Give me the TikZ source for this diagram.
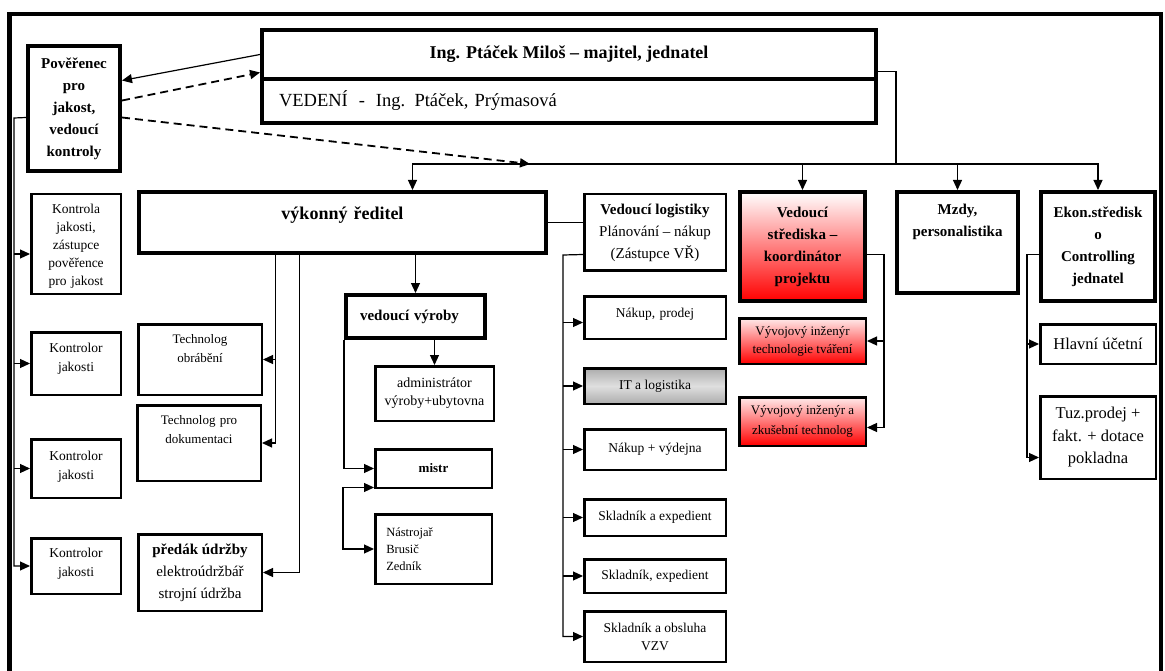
\documentclass[tikz,border=0pt]{standalone}
\usepackage{fontspec}
\setmainfont{Liberation Serif}
\usetikzlibrary{positioning, arrows.meta}

\begin{document}
\begin{tikzpicture} [x = 1pt, y = -1pt, >={Triangle[length=10pt, width=9pt]},
		box/.style = {draw, line width = 2.5pt, anchor = north west, align = center, font = \fontsize{13.5}{18}\selectfont},
		bbox/.style = {box, line width = 4pt, font = \fontsize{15}{22}\selectfont\bfseries},
		topbox/.style = {inner sep = 0pt},
		redbox/.style = {top color = white, bottom color = red},
		link/.style = {line width = 1.2pt},
		arr/.style = {link, ->},
		dline/.style = {line width = 1.8pt, dash pattern = on 8pt off 5pt}]
		\useasboundingbox (0,0) rectangle (1165,671);
		% Frame
		\draw [line width = 4.5pt] (9.5,671) -- (9.5,14) -- (1161,14) -- (1161,671);

		% Owner and management
		\node (majitel) [bbox, font = \fontsize{18}{22}\selectfont\bfseries, minimum width = 614pt, minimum height = 49pt] at (260,28) {Ing. Ptáček Miloš – majitel, jednatel};
		\node (vedeni) [bbox, font = \fontsize{18.5}{22}\selectfont, below = -4pt of majitel, align = left, text width = 580pt, inner xsep = 17pt, minimum height = 44pt] {VEDENÍ\hspace{11pt}-\hspace{11pt}Ing. Ptáček, Prýmasová};

		% Quality
		\node (pov) [bbox, minimum width = 92pt, minimum height = 125pt] at (26,44) {Pověřenec\\pro\\jakost,\\vedoucí\\kontroly};
		\node (kon1) [box, topbox, text width = 89.5pt, text height = 19pt, text depth = 80.5pt] at (30,193) {Kontrola\\jakosti,\\zástupce\\pověřence\\pro jakost};
		\node (kon2) [box, topbox, font = \fontsize{13.5}{19}\selectfont, text width = 89.5pt, text height = 20pt, text depth = 42.5pt] at (30,331) {Kontrolor\\jakosti};
		\node (kon3) [box, topbox, font = \fontsize{13.5}{19}\selectfont, text width = 89.5pt, text height = 21pt, text depth = 37.5pt] at (30,438) {Kontrolor\\jakosti};
		\node (kon4) [box, topbox, font = \fontsize{13.5}{19}\selectfont, text width = 89.5pt, text height = 19pt, text depth = 36.5pt] at (30,537) {Kontrolor\\jakosti};

		% Executive director
		\node (vr) [bbox, topbox, font = \fontsize{18}{22}\selectfont\bfseries, text width = 407pt, text height = 28pt, text depth = 33pt] at (137,190) {výkonný ředitel};
		\node (tob) [box, topbox, font = \fontsize{13}{19}\selectfont, text width = 123.5pt, text height = 19pt, text depth = 51.5pt] at (137,323) {Technolog\\obrábění};
		\node (tdok) [box, topbox, font = \fontsize{13}{19}\selectfont, text width = 123.5pt, text height = 19pt, text depth = 56.5pt] at (136,404) {Technolog pro\\dokumentaci};
		\node (pred) [box, font = \fontsize{15}{22}\selectfont, minimum width = 123.5pt, minimum height = 76.5pt] at (137,533) {\textbf{předák údržby}\\elektroúdržbář\\strojní údržba};

		% Production
		\node (vvyr) [bbox, align = left, text width = 111pt, inner xsep = 14pt, minimum height = 43pt] at (344,293) {vedoucí výroby};
		\node (adm) [box, font = \fontsize{14}{18}\selectfont, minimum width = 118.5pt, minimum height = 54.5pt] at (374,365) {administrátor\\výroby+ubytovna};
		\node (mistr) [box, font = \fontsize{13}{14}\selectfont\bfseries, minimum width = 116.5pt, minimum height = 38.5pt] at (374,448) {mistr};
		\node (nas) [box, font = \fontsize{12.5}{17}\selectfont, align = left, text width = 94.5pt, inner xsep = 11pt, minimum height = 69.5pt] at (374,513) {Nástrojař\\Brusič\\Zedník};

		% Logistics
		\node (vlog) [box, font = \fontsize{15}{22}\selectfont, minimum width = 141.5pt, minimum height = 76.5pt] at (583,193) {\textbf{Vedoucí logistiky}\\Plánování – nákup\\(Zástupce VŘ)};
		\node (nak) [box, topbox, text width = 141.5pt, text height = 21pt, text depth = 21.5pt] at (583,295) {Nákup, prodej};
		\node (itl) [box, top color = gray!65, bottom color = gray!65, middle color = gray!25, minimum width = 141.5pt, minimum height = 35.5pt] at (583,367) {IT a logistika};
		\node (nvyd) [box, minimum width = 141.5pt, minimum height = 40.5pt] at (583,428) {Nákup + výdejna};
		\node (skl1) [box, minimum width = 141.5pt, minimum height = 36.5pt] at (583,498) {Skladník a expedient};
		\node (skl2) [box, minimum width = 141.5pt, minimum height = 33.5pt] at (583,558) {Skladník, expedient};
		\node (skl3) [box, minimum width = 141.5pt, minimum height = 50.5pt] at (583,610) {Skladník a obsluha\\VZV};

		% Centre / project
		\node (vst) [bbox, redbox, minimum width = 125pt, minimum height = 109pt] at (738,190) {Vedoucí\\střediska –\\koordinátor\\projektu};
		\node (vyv1) [box, top color = red!8, bottom color = red, font = \fontsize{13}{18}\selectfont, minimum width = 126.5pt, minimum height = 45.5pt] at (738,317) {Vývojový inženýr\\technologie tváření};
		\node (vyv2) [box, top color = red!8, bottom color = red, font = \fontsize{13}{20}\selectfont, minimum width = 126.5pt, minimum height = 48.5pt] at (738,396) {Vývojový inženýr a\\zkušební technolog};

		% Wages, economy
		\node (mzdy) [bbox, topbox, text width = 121pt, text height = 23pt, text depth = 78pt] at (895,190) {Mzdy,\\personalistika};
		\node (ekon) [bbox, minimum width = 114pt, minimum height = 109pt] at (1039,190) {Ekon.středisk\\o\\Controlling\\jednatel};
		\node (hlav) [box, font = \fontsize{16.5}{22}\selectfont, minimum width = 115.5pt, minimum height = 39.5pt] at (1039,323) {Hlavní účetní};
		\node (tuz) [box, font = \fontsize{16.5}{22.5}\selectfont, minimum width = 115.5pt, minimum height = 82.5pt] at (1039,395) {Tuz.prodej +\\fakt. + dotace\\pokladna};

		% Draw Arrows/Connections
		\coordinate (bus) at (896,164);
		\coordinate (dhit) at (530,164);
		\coordinate (kbus) at (14,118);
		\coordinate (lbus) at (563,255);

		% majitel <=> poverenec
		\draw [arr] (majitel.west) -- ([yshift=28pt]pov.east);
		\draw [arr, dline] ([yshift=8pt]pov.east) -- ([yshift=-18pt]majitel.west);
		\draw [arr, dline] ([yshift=-9pt]pov.east) -- (dhit);

		% majitel => top level
		\draw [link] ([yshift=-17pt]majitel.east) -| (bus);
		\draw [arr] (bus) -| ([xshift=70pt]vr.north);
		\draw [arr] (bus) -| (ekon.north);
		\draw [arr] (bus -| vst.north) -- (vst.north);
		\draw [arr] (bus -| mzdy.north) -- (mzdy.north);

		% poverenec => kontrolori
		\draw [arr] ([yshift=-9pt]pov.west) -- (kbus) |- (kon4.west);
		\draw [link, <-] ([yshift=-10pt]kon1.west) -- ++(-16,0);
		\draw [link, <-] (kon2.west) -- ++(-16,0);
		\draw [link, <-] (kon3.west) -- ++(-16,0);

		% vykonny reditel => technologove, udrzba, vyroba, logistika
		\draw [arr] ([xshift=-67pt]vr.south) |- (tdok.east);
		\draw [arr] ([xshift=-67pt]vr.south) |- (tob.east);
		\draw [arr] ([xshift=-43pt]vr.south) |- (pred.east);
		\draw [arr] (vr.south -| vvyr.north) -- (vvyr.north);
		\draw [link] (vr.east) -- (vr.east -| vlog.west);

		% vedouci vyroby => podrizeni
		\draw [arr] (vvyr.south -| adm.north) -- (adm.north);
		\draw [arr] (vvyr.south west) |- (mistr.west);
		\draw [link, <->] ([yshift=-19pt]mistr.west) -- ++(-31,0) |- (nas.west);

		% logistika => podrizeni
		\draw [arr] ([yshift=-22pt]vlog.west) -- (lbus) |- (skl3.west);
		\draw [link, <-] ([yshift=-5pt]nak.west) -- ++(-20,0);
		\draw [arr] (lbus |- itl.west) -- (itl.west);
		\draw [arr] (lbus |- nvyd.west) -- (nvyd.west);
		\draw [arr] (lbus |- skl1.west) -- (skl1.west);
		\draw [arr] (lbus |- skl2.west) -- (skl2.west);

		% stredisko => vyvojovi inzenyri
		\draw [arr] ([yshift=-8pt]vst.east) -- ++(17,0) |- ([yshift=-6pt]vyv2.east);
		\draw [link, <-] (vyv1.east) -- ++(17,0);

		% ekonomika => ucetni
		\draw [arr] ([yshift=-8pt]ekon.west) -- ++(-12,0) |- ([yshift=-20pt]tuz.west);
		\draw [link, <-] (hlav.west) -- ++(-12,0);
	\end{tikzpicture}
\end{document}
